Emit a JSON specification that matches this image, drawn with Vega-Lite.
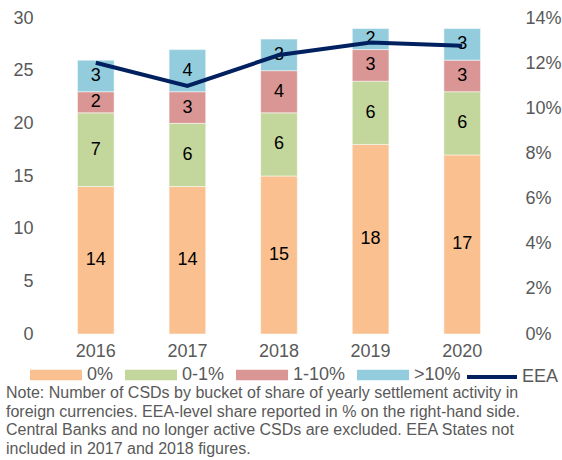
{
  "$schema": "https://vega.github.io/schema/vega-lite/v6.json",
  "width": 458,
  "height": 316,
  "autosize": {"type": "none"},
  "padding": {"left": 50, "top": 18, "right": 54, "bottom": 126},
  "config": {
    "font": "Liberation Sans",
    "view": {"stroke": null},
    "axis": {"grid": false, "ticks": false, "domain": false, "title": null, "labelFontSize": 18, "labelColor": "#595959", "labelFont": "Liberation Sans"},
    "legend": {"labelFontSize": 18, "labelColor": "#595959", "labelFont": "Liberation Sans", "labelOffset": 5, "columnPadding": 11}
  },
  "title": {
    "text": [
      "Note: Number of CSDs by bucket of share of yearly settlement activity in",
      "foreign currencies. EEA-level share reported in % on the right-hand side.",
      "Central Banks and no longer active CSDs are excluded. EEA States not",
      "included in 2017 and 2018 figures."
    ],
    "orient": "bottom",
    "anchor": "start",
    "frame": "group",
    "align": "left",
    "dx": -44,
    "offset": -1,
    "fontSize": 16,
    "fontWeight": "normal",
    "color": "#595959",
    "lineHeight": 18.7
  },
  "datasets": {
    "bars": [
      {"year": "2016", "bucket": "0%", "count": 14, "order": 1},
      {"year": "2016", "bucket": "0-1%", "count": 7, "order": 2},
      {"year": "2016", "bucket": "1-10%", "count": 2, "order": 3},
      {"year": "2016", "bucket": ">10%", "count": 3, "order": 4},
      {"year": "2017", "bucket": "0%", "count": 14, "order": 1},
      {"year": "2017", "bucket": "0-1%", "count": 6, "order": 2},
      {"year": "2017", "bucket": "1-10%", "count": 3, "order": 3},
      {"year": "2017", "bucket": ">10%", "count": 4, "order": 4},
      {"year": "2018", "bucket": "0%", "count": 15, "order": 1},
      {"year": "2018", "bucket": "0-1%", "count": 6, "order": 2},
      {"year": "2018", "bucket": "1-10%", "count": 4, "order": 3},
      {"year": "2018", "bucket": ">10%", "count": 3, "order": 4},
      {"year": "2019", "bucket": "0%", "count": 18, "order": 1},
      {"year": "2019", "bucket": "0-1%", "count": 6, "order": 2},
      {"year": "2019", "bucket": "1-10%", "count": 3, "order": 3},
      {"year": "2019", "bucket": ">10%", "count": 2, "order": 4},
      {"year": "2020", "bucket": "0%", "count": 17, "order": 1},
      {"year": "2020", "bucket": "0-1%", "count": 6, "order": 2},
      {"year": "2020", "bucket": "1-10%", "count": 3, "order": 3},
      {"year": "2020", "bucket": ">10%", "count": 3, "order": 4}
    ],
    "line": [
      {"year": "2016", "share": 0.1202, "series": "EEA"},
      {"year": "2017", "share": 0.1099, "series": "EEA"},
      {"year": "2018", "share": 0.1236, "series": "EEA"},
      {"year": "2019", "share": 0.1291, "series": "EEA"},
      {"year": "2020", "share": 0.1277, "series": "EEA"}
    ]
  },
  "encoding": {
    "x": {
      "field": "year",
      "type": "nominal",
      "scale": {"paddingInner": 0.6, "paddingOuter": 0.3},
      "axis": {"labelAngle": 0, "labelPadding": 8}
    }
  },
  "layer": [
    {
      "data": {"name": "bars"},
      "transform": [
        {"stack": "count", "groupby": ["year"], "sort": [{"field": "order", "order": "ascending"}], "as": ["y0", "y1"]},
        {"calculate": "(datum.y0 + datum.y1) / 2", "as": "mid"}
      ],
      "layer": [
        {
          "mark": {"type": "bar", "stroke": "#ffffff", "strokeWidth": 0.5},
          "encoding": {
            "y": {
              "field": "y1",
              "type": "quantitative",
              "scale": {"domain": [0, 30]},
              "axis": {"orient": "left", "values": [0, 5, 10, 15, 20, 25, 30], "labelPadding": 17}
            },
            "y2": {"field": "y0"},
            "color": {
              "field": "bucket",
              "type": "nominal",
              "scale": {
                "domain": ["0%", "0-1%", "1-10%", ">10%"],
                "range": ["#FAC090", "#C3D69B", "#D99694", "#93CDDD"]
              },
              "legend": {
                "orient": "none",
                "direction": "horizontal",
                "legendX": -20,
                "legendY": 331,
                "title": null,
                "symbolType": "M-1,-0.2H1V0.2H-1Z",
                "symbolSize": 2704,
                "symbolStrokeWidth": 0
              }
            }
          }
        },
        {
          "mark": {"type": "text", "fontSize": 18, "color": "#000000", "baseline": "middle", "align": "center"},
          "encoding": {
            "y": {"field": "mid", "type": "quantitative"},
            "text": {"field": "count", "type": "quantitative"}
          }
        }
      ]
    },
    {
      "data": {"name": "line"},
      "mark": {"type": "line", "strokeWidth": 4},
      "encoding": {
        "y": {
          "field": "share",
          "type": "quantitative",
          "scale": {"domain": [0, 0.14]},
          "axis": {"orient": "right", "format": ".0%", "values": [0, 0.02, 0.04, 0.06, 0.08, 0.1, 0.12, 0.14], "labelPadding": 17}
        },
        "stroke": {
          "field": "series",
          "type": "nominal",
          "scale": {"domain": ["EEA"], "range": ["#002060"]},
          "legend": {
            "orient": "none",
            "direction": "horizontal",
            "legendX": 415,
            "legendY": 332,
            "title": null,
            "symbolType": "stroke",
            "symbolSize": 2500,
            "symbolStrokeWidth": 4,
            "labelOffset": 3
          }
        }
      }
    }
  ],
  "resolve": {"scale": {"y": "independent"}}
}
